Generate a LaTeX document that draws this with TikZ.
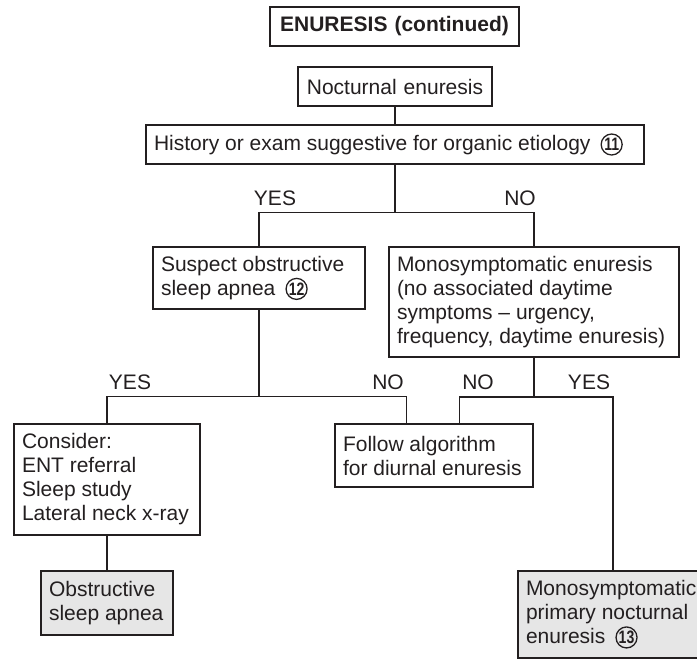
\documentclass[tikz,border=0pt]{standalone}
\usepackage{fontspec}
\setmainfont{Liberation Sans}
\usetikzlibrary{calc}
\definecolor{mInk}{HTML}{231F20}
\definecolor{mShade}{HTML}{E6E6E6}
\hyphenpenalty=10000
\newcommand{\stepno}[1]{\hspace{5pt}\tikz[baseline=(s.base)]\node[circle, draw=mInk, line width=0.65pt, inner sep=0pt, minimum size=10.5pt, font=\fontsize{9}{9}\selectfont\bfseries] (s) {\scalebox{0.78}[1]{#1}};}

\begin{document}
\begin{tikzpicture}[x=0.5pt, y=-0.5pt, line width=0.75pt,
    box/.style={draw=mInk, text=mInk, inner xsep=4pt, inner ysep=0pt, align=flush left, font=\fontsize{10.5}{12}\selectfont},
    endbox/.style={box, fill=mShade},
    lbl/.style={text=mInk, inner sep=0pt, font=\fontsize{10.5}{12}\selectfont}]
    \clip (0,0) rectangle (697,659);
    \node[box, align=center, text width=116.5pt, minimum height=19.5pt, font=\fontsize{10.5}{12}\selectfont\bfseries] (title) at (394.5,26.5) {ENURESIS (continued)};
    \node[box, align=center, text width=89pt, minimum height=19.5pt] (noct) at (395,86.5) {Nocturnal enuresis};
    \node[box, text width=241pt, minimum height=19.5pt] (hist) at (395,144.5) {History or exam suggestive for organic etiology\stepno{11}};
    \node[box, text width=98pt, minimum height=31pt] (susp) at (259,278) {Suspect obstructive\\sleep apnea\stepno{12}};
    \node[box, text width=137pt, minimum height=55pt] (mono) at (534,302) {Monosymptomatic enuresis\\(no associated daytime\\symptoms -- urgency,\\frequency, daytime enuresis)};
    \node[box, text width=85pt, minimum height=55.5pt] (cons) at (107,479.5) {Consider:\\ENT referral\\Sleep study\\Lateral neck x-ray};
    \node[box, text width=91pt, minimum height=31.5pt] (follow) at (434,455.5) {Follow algorithm\\for diurnal enuresis};
    \node[endbox, text width=58pt, minimum height=32pt] (osa) at (107,603) {Obstructive\\sleep apnea};
    \node[endbox, text width=87pt, minimum height=43.5pt] (mpne) at (613,614.5) {Monosymptomatic\\primary nocturnal\\enuresis\stepno{13}};
    \node[lbl] (yes1) at (275,198) {YES};
    \node[lbl] (no1) at (520,198) {NO};
    \node[lbl] (yes2) at (130,382) {YES};
    \node[lbl] (no2) at (388,382) {NO};
    \node[lbl] (no3) at (478,382) {NO};
    \node[lbl] (yes3) at (589,382) {YES};
    \coordinate (j1) at ($(hist.south)+(0,48)$);
    \coordinate (j2) at ($(susp.south)+(0,87)$);
    \coordinate (j3) at ($(mono.south)+(0,39)$);
    \coordinate (f1) at ($(follow.north west)+(72,0)$);
    \coordinate (f2) at ($(follow.north west)+(125,0)$);
    \draw[mInk] (noct) -- (hist);
    \draw[mInk] (hist.south) -- (j1) -| (susp.north);
    \draw[mInk] (j1) -| (mono.north);
    \draw[mInk] (susp.south) -- (j2) -| (cons.north);
    \draw[mInk] (j2) -| (f1);
    \draw[mInk] (mono.south) -- (j3) -| (f2);
    \draw[mInk] (j3) -| (mpne.north);
    \draw[mInk] (cons) -- (osa);
\end{tikzpicture}
\end{document}
